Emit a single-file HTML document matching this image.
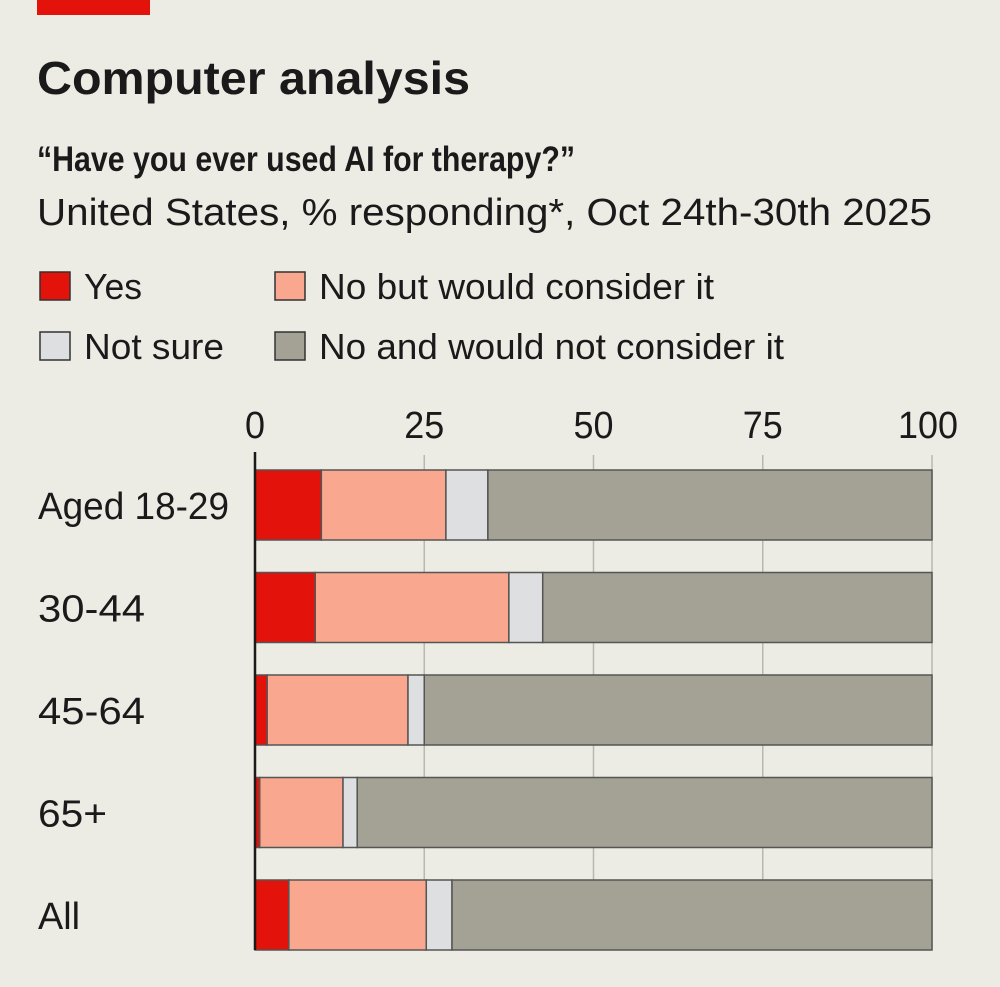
<!DOCTYPE html>
<html><head><meta charset="utf-8"><style>
body{margin:0;width:1000px;height:987px;background:#ecebe4;overflow:hidden;font-family:"Liberation Sans",sans-serif;position:relative;color:#1a1a1a}
</style></head><body>
<div style="position:absolute;left:37px;top:0;width:113px;height:15px;background:#e3120b"></div>
<svg id="chart" width="1000" height="987" style="position:absolute;left:0;top:0" font-family="Liberation Sans, sans-serif">
<text x="37" y="94" font-size="46" font-weight="bold" fill="#1a1a1a" textLength="433" lengthAdjust="spacingAndGlyphs">Computer analysis</text>
<text x="37" y="171" font-size="35" font-weight="bold" fill="#1a1a1a" textLength="538" lengthAdjust="spacingAndGlyphs">“Have you ever used AI for therapy?”</text>
<text x="37" y="225" font-size="38" fill="#1a1a1a" textLength="895" lengthAdjust="spacingAndGlyphs">United States, % responding*, Oct 24th-30th 2025</text>
</svg>
<script>
const categories=["Aged 18-29","30-44","45-64","65+","All"];
const seriesNames=["Yes","No but would consider it","Not sure","No and would not consider it"];
const yes=[9.8,8.9,1.8,0.7,5];
const considering=[18.4,28.6,20.8,12.3,20.3];
const notSure=[6.2,5,2.4,2.1,3.8];
const notConsider=[65.6,57.5,75,84.9,70.9];
const ticks=[0,25,50,75,100];
const colors=["#e3120b","#f9a88f","#dedfe0","#a3a294"];
const svg=document.getElementById('chart');
const NS="http://www.w3.org/2000/svg";
const x=v=>255+v*6.77;
const yTop=i=>470+i*102.5;
const bh=70;
function mk(t,a){const e=document.createElementNS(NS,t);for(const k in a)e.setAttribute(k,a[k]);svg.appendChild(e);return e;}
const legPos=[[40,272],[275,272],[40,332],[275,332]];
const legLen=[58,395,140,465];
[0,1,2,3].forEach(j=>{
 const [lx,ly]=legPos[j];
 const r=mk('rect',{x:lx,y:ly,width:30,height:28,fill:colors[j],stroke:'#333','stroke-width':1.5});
 
 
 const t=mk('text',{x:lx+44,y:ly+27,'font-size':36,fill:'#1a1a1a',textLength:legLen[j],lengthAdjust:'spacingAndGlyphs'});
 t.textContent=seriesNames[j];
 
 
});
ticks.forEach(v=>{
 if(v>0){const l=mk('line',{x1:x(v),x2:x(v),y1:455,y2:950,stroke:'#b9b8b0','stroke-width':1.5});
 
 }
 const s=String(v);
 const w=s.length*20;
 const cx=v===100?x(v)-4:x(v);
 const t=mk('text',{x:cx-w/2,y:438,'font-size':38,fill:'#1a1a1a',textLength:w,lengthAdjust:'spacingAndGlyphs'});
 t.textContent=s;
 
 
});
const series=[yes,considering,notSure,notConsider];
const catLen=[191,107,107,69,42];
categories.forEach((c,i)=>{
 let acc=0;
 series.forEach((s,k)=>{
  const r=mk('rect',{x:x(acc),y:yTop(i),width:x(acc+s[i])-x(acc),height:bh,fill:colors[k],stroke:'#555','stroke-width':1.5});
  
  
  acc+=s[i];
 });
 const t=mk('text',{x:38,y:yTop(i)+49,'font-size':38,fill:'#1a1a1a',textLength:catLen[i],lengthAdjust:'spacingAndGlyphs'});
 t.textContent=c;
 
 
});
const z=mk('line',{x1:x(0),x2:x(0),y1:452,y2:950,stroke:'#1a1a1a','stroke-width':2.5});


const src=mk('text',{x:38,y:1012,'font-size':34,fill:'#333'});
src.textContent="Source: YouGov                              *Sample: 10,000 respondents";


</script>
</body></html>
